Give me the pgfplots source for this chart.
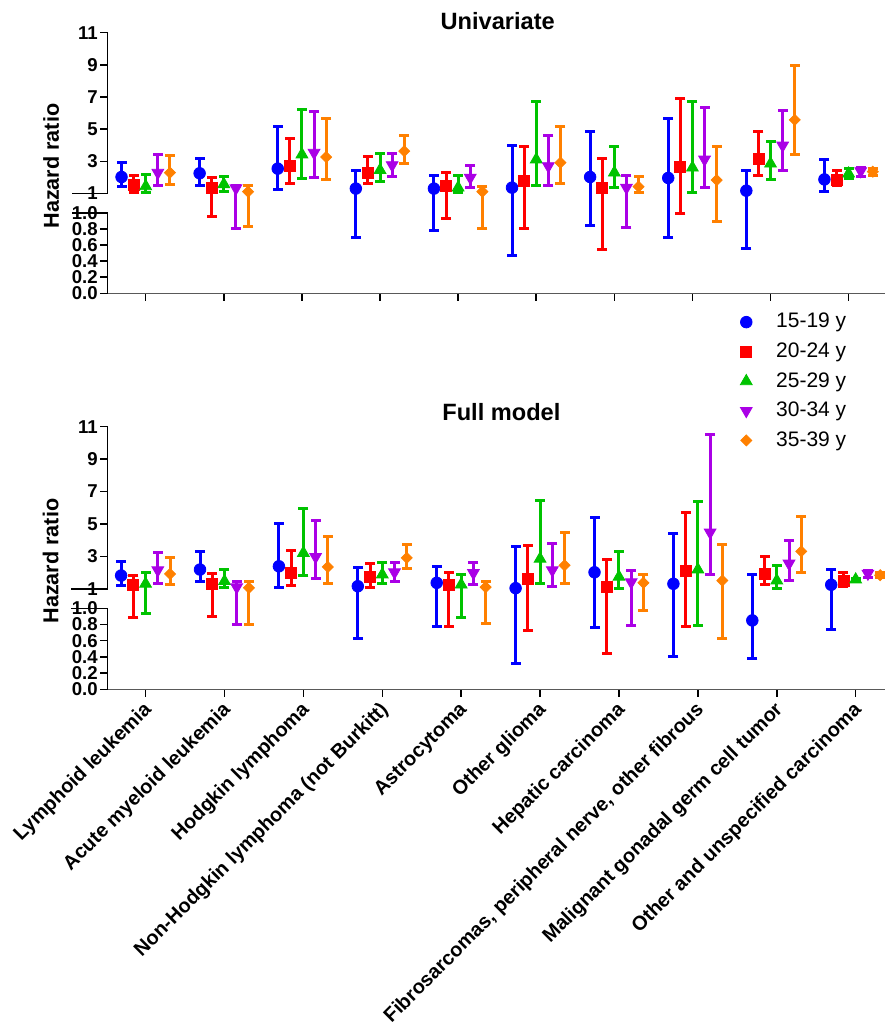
\documentclass[border=0pt]{standalone}
\usepackage{fontspec}
\setmainfont{Liberation Sans}
\usepackage{pgfplots}
\pgfplotsset{compat=1.18}
\definecolor{cB}{RGB}{0,0,255}
\definecolor{cR}{RGB}{255,0,0}
\definecolor{cG}{RGB}{0,195,0}
\definecolor{cP}{RGB}{170,0,230}
\definecolor{cO}{RGB}{255,128,0}
% one whisker: style, category, lower, upper
\newcommand{\wk}[4]{\addplot[#1, whisk, forget plot] coordinates {(#2,#3) (#2,#4)};}
\pgfplotsset{
  whisk/.style={line width=1.5pt, mark=-, mark size=2.5pt, mark options={solid}},
  sB/.style={cB, x filter/.expression={x-0.31}},
  sR/.style={cR, x filter/.expression={x-0.155}},
  sG/.style={cG},
  sP/.style={cP, x filter/.expression={x+0.155}},
  sO/.style={cO, x filter/.expression={x+0.31}},
  mB/.style={only marks, mark=*, mark size=2.9pt},
  mR/.style={only marks, mark=square*, mark size=2.75pt},
  mG/.style={only marks, mark=triangle*, mark size=3.4pt},
  mP/.style={only marks, mark=triangle*, mark size=3.4pt, mark options={rotate=180}},
  mO/.style={only marks, mark=square*, mark size=1.95pt, mark options={rotate=45}},
  hr/.style={
    scale only axis, clip=false,
    xmax=10.5, ymin=0, ymax=11,
    % broken axis: 0..1 stretched below, gap, then 1..11
    y coord trafo/.code={\pgfmathparse{5*min(##1,1)+1.2*(##1>1)+max(##1-1,0)}},
    axis x line*=bottom, axis y line*=left,
    xtick pos=left, ytick pos=left,
    x axis line style={-, line width=0.75pt, black!65},
    y axis line style={draw=none},
    tick align=outside, major tick length=3.8pt,
    every tick/.style={black, line width=0.75pt},
    xtick={1,...,10},
    ytick={0,0.2,0.4,0.6,0.8,1,1.0001,3,5,7,9,11},
    yticklabels={0.0,0.2,0.4,0.6,0.8,1.0,1,3,5,7,9,11},
    yticklabel style={font=\bfseries\fontsize{9.3}{10}\selectfont, inner sep=1pt},
    ylabel={Hazard ratio},
    every axis y label/.style={at={(axis description cs:-0.0626,0.488)}, rotate=90,
      anchor=base, font=\bfseries\fontsize{10.8}{12}\selectfont},
    every axis title/.style={at={(0.5,1)}, anchor=base,
      font=\bfseries\fontsize{11.8}{13}\selectfont},
  }
}
\newcommand{\spine}{%
  \draw[line width=0.75pt] (rel axis cs:0,0) -- (rel axis cs:0,0.30864) -- ++(2pt,0);
  \draw[line width=0.75pt] (rel axis cs:0,1) -- (rel axis cs:0,0.38272) -- ++(2pt,0);
}
\begin{document}
\begin{tikzpicture}
\useasboundingbox (0,0) rectangle (442.5pt,-512.5pt);

\begin{axis}[hr, at={(53.85pt,-146.65pt)}, anchor=south west,
  width=390pt, height=130.3pt, xmin=0.513,
  title={Univariate}, title style={yshift=1.7pt}, xticklabels={}]
  \wk{sB}{1}{1.41}{2.96} \wk{sB}{2}{1.53}{3.18} \wk{sB}{3}{1.27}{5.15} \wk{sB}{4}{0.69}{2.42} \wk{sB}{5}{0.78}{2.13}
  \wk{sB}{6}{0.475}{4.01} \wk{sB}{7}{0.845}{4.88} \wk{sB}{8}{0.695}{5.66} \wk{sB}{9}{0.56}{2.46} \wk{sB}{10}{1.14}{3.10}
  \wk{sR}{1}{1.06}{2.15} \wk{sR}{2}{0.954}{1.99} \wk{sR}{3}{1.64}{4.44} \wk{sR}{4}{1.60}{3.33} \wk{sR}{5}{0.925}{2.32}
  \wk{sR}{6}{0.80}{3.95} \wk{sR}{7}{0.545}{3.20} \wk{sR}{8}{0.99}{6.88} \wk{sR}{9}{2.11}{4.84} \wk{sR}{10}{1.53}{2.44}
  \wk{sG}{1}{1.06}{2.19} \wk{sG}{2}{1.16}{2.07} \wk{sG}{3}{1.93}{6.22} \wk{sG}{4}{1.76}{3.47} \wk{sG}{5}{1.06}{2.15}
  \wk{sG}{6}{1.50}{6.75} \wk{sG}{7}{1.37}{3.93} \wk{sG}{8}{1.04}{6.71} \wk{sG}{9}{1.87}{4.24} \wk{sG}{10}{1.93}{2.55}
  \wk{sP}{1}{1.53}{3.45} \wk{sP}{2}{0.81}{1.53} \wk{sP}{3}{2.01}{6.11} \wk{sP}{4}{2.05}{3.51} \wk{sP}{5}{1.37}{2.75}
  \wk{sP}{6}{1.50}{4.59} \wk{sP}{7}{0.82}{2.13} \wk{sP}{8}{1.39}{6.36} \wk{sP}{9}{2.46}{6.18} \wk{sP}{10}{2.09}{2.65}
  \wk{sO}{1}{1.58}{3.39} \wk{sO}{2}{0.83}{1.51} \wk{sO}{3}{1.87}{5.66} \wk{sO}{4}{2.87}{4.61} \wk{sO}{5}{0.80}{1.47}
  \wk{sO}{6}{1.64}{5.16} \wk{sO}{7}{1.06}{2.07} \wk{sO}{8}{0.89}{3.93} \wk{sO}{9}{3.45}{8.94} \wk{sO}{10}{2.13}{2.57}
  \addplot[sB, mB] coordinates {(1,2.03)(2,2.26)(3,2.55)(4,1.31)(5,1.31)(6,1.37)(7,2.03)(8,1.97)(9,1.18)(10,1.88)};
  \addplot[sR, mR] coordinates {(1,1.53)(2,1.37)(3,2.71)(4,2.30)(5,1.47)(6,1.80)(7,1.33)(8,2.63)(9,3.18)(10,1.82)};
  \addplot[sG, mG] coordinates {(1,1.45)(2,1.58)(3,3.43)(4,2.46)(5,1.37)(6,3.12)(7,2.30)(8,2.61)(9,2.86)(10,2.24)};
  \addplot[sP, mP] coordinates {(1,2.30)(2,1.33)(3,3.54)(4,2.77)(5,1.99)(6,2.71)(7,1.37)(8,3.12)(9,3.99)(10,2.40)};
  \addplot[sO, mO] coordinates {(1,2.30)(2,1.12)(3,3.27)(4,3.64)(5,1.12)(6,2.92)(7,1.43)(8,1.84)(9,5.58)(10,2.36)};
  \spine
\end{axis}

\begin{axis}[hr, at={(53.85pt,-344.65pt)}, anchor=south west,
  width=393.7pt, height=131.3pt, xmin=0.52,
  title={Full model}, title style={yshift=3pt},
  xticklabels={Lymphoid leukemia, Acute myeloid leukemia, Hodgkin lymphoma,
    Non-Hodgkin lymphoma (not Burkitt), Astrocytoma, Other glioma, Hepatic carcinoma,
    {Fibrosarcomas, peripheral nerve, other fibrous}, Malignant gonadal germ cell tumor,
    Other and unspecified carcinoma},
  xticklabel style={xshift=4pt, yshift=-2.6pt, rotate=45, anchor=east,
    font=\bfseries\fontsize{9.95}{11}\selectfont},
  legend style={at={(axis description cs:0.803,1.441)}, anchor=north west,
    draw=none, fill=none, inner sep=0pt, row sep=3.95pt, column sep=11pt,
    font=\fontsize{10.5}{12}\selectfont, nodes={inner sep=1pt}, cells={anchor=west}}]
  \wk{sB}{1}{1.22}{2.66} \wk{sB}{2}{1.47}{3.28} \wk{sB}{3}{1.10}{5.02} \wk{sB}{4}{0.63}{2.33} \wk{sB}{5}{0.78}{2.35}
  \wk{sB}{6}{0.32}{3.60} \wk{sB}{7}{0.76}{5.43} \wk{sB}{8}{0.40}{4.40} \wk{sB}{9}{0.38}{1.90} \wk{sB}{10}{0.74}{2.17}
  \wk{sR}{1}{0.88}{1.84} \wk{sR}{2}{0.90}{1.94} \wk{sR}{3}{1.20}{3.36} \wk{sR}{4}{1.10}{2.54} \wk{sR}{5}{0.775}{2.00}
  \wk{sR}{6}{0.73}{3.68} \wk{sR}{7}{0.44}{2.82} \wk{sR}{8}{0.78}{5.71} \wk{sR}{9}{1.25}{3.01} \wk{sR}{10}{1.16}{1.98}
  \wk{sG}{1}{0.94}{1.98} \wk{sG}{2}{1.10}{2.19} \wk{sG}{3}{1.82}{5.94} \wk{sG}{4}{1.31}{2.64} \wk{sG}{5}{0.88}{1.90}
  \wk{sG}{6}{1.35}{6.43} \wk{sG}{7}{1.01}{3.28} \wk{sG}{8}{0.79}{6.37} \wk{sG}{9}{1.02}{2.43} \wk{sG}{10}{1.50}{1.65}
  \wk{sP}{1}{1.33}{3.21} \wk{sP}{2}{0.795}{1.47} \wk{sP}{3}{1.63}{5.20} \wk{sP}{4}{1.47}{2.64} \wk{sP}{5}{1.28}{2.62}
  \wk{sP}{6}{1.12}{3.77} \wk{sP}{7}{0.79}{2.15} \wk{sP}{8}{1.88}{10.49} \wk{sP}{9}{1.51}{3.95} \wk{sP}{10}{1.68}{2.15}
  \wk{sO}{1}{1.26}{2.93} \wk{sO}{2}{0.795}{1.43} \wk{sO}{3}{1.33}{4.24} \wk{sO}{4}{2.25}{3.72} \wk{sO}{5}{0.81}{1.47}
  \wk{sO}{6}{1.31}{4.50} \wk{sO}{7}{0.97}{1.88} \wk{sO}{8}{0.63}{3.72} \wk{sO}{9}{1.98}{5.47} \wk{sO}{10}{1.68}{2.02}
  \addplot[sB, mB] coordinates {(1,1.82)(2,2.19)(3,2.39)(4,1.16)(5,1.37)(6,1.04)(7,2.02)(8,1.31)(9,0.85)(10,1.25)};
  \addplot[sR, mR] coordinates {(1,1.26)(2,1.31)(3,1.98)(4,1.71)(5,1.22)(6,1.63)(7,1.12)(8,2.08)(9,1.94)(10,1.51)};
  \addplot[sG, mG] coordinates {(1,1.31)(2,1.47)(3,3.21)(4,1.88)(5,1.26)(6,2.85)(7,1.74)(8,2.19)(9,1.51)(10,1.57)};
  \addplot[sP, mP] coordinates {(1,2.15)(2,1.10)(3,2.97)(4,2.02)(5,1.98)(6,2.15)(7,1.41)(8,4.48)(9,2.56)(10,1.94)};
  \addplot[sO, mO] coordinates {(1,1.92)(2,1.06)(3,2.35)(4,2.91)(5,1.10)(6,2.45)(7,1.37)(8,1.51)(9,3.31)(10,1.84)};
  \legend{15-19 y, 20-24 y, 25-29 y, 30-34 y, 35-39 y}
  \spine
\end{axis}
\end{tikzpicture}
\end{document}
